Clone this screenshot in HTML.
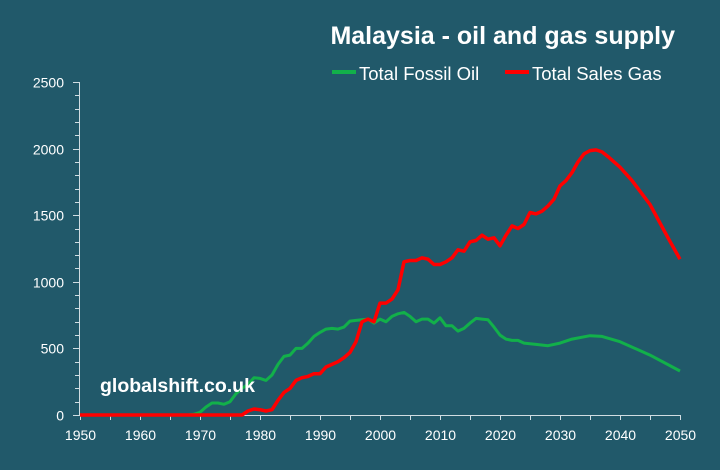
<!DOCTYPE html>
<html><head><meta charset="utf-8"><style>
body{margin:0;background:#21596a;}
svg{display:block;font-family:"Liberation Sans","DejaVu Sans",sans-serif;}
</style></head><body>
<svg id="s" width="720" height="470" viewBox="0 0 720 470">
<rect width="720" height="470" fill="#21596a"/>
<text x="675" y="44" text-anchor="end" font-size="25" font-weight="bold" fill="#fff">Malaysia - oil and gas supply</text>
<line x1="332" y1="72" x2="356" y2="72" stroke="#12b04a" stroke-width="4"/>
<text x="359" y="80" font-size="18.5" fill="#fff">Total Fossil Oil</text>
<line x1="505" y1="72" x2="529" y2="72" stroke="#ff0000" stroke-width="4"/>
<text x="532" y="80" font-size="18.5" fill="#fff">Total Sales Gas</text>
<g id="ax" stroke="#d0dde2" stroke-width="1"></g>
<g id="lab" fill="#fff" font-size="14"></g>
<polyline id="oil" fill="none" stroke="#12b04a" stroke-width="3" stroke-linejoin="round"/>
<polyline id="gas" fill="none" stroke="#ff0000" stroke-width="3.5" stroke-linejoin="round"/>
<text x="100" y="392" font-size="19.5" font-weight="bold" fill="#fff">globalshift.co.uk</text>
</svg>
<script>
var X=function(y){return 80+6*(y-1950)},Y=function(v){return 415-v*0.1332};
var ax=document.getElementById('ax'),lab=document.getElementById('lab'),ns='http://www.w3.org/2000/svg';
function L(a,b,c,d){var l=document.createElementNS(ns,'line');l.setAttribute('x1',a);l.setAttribute('y1',b);l.setAttribute('x2',c);l.setAttribute('y2',d);ax.appendChild(l);}
function T(x,y,s,a){var t=document.createElementNS(ns,'text');t.setAttribute('x',x);t.setAttribute('y',y);t.setAttribute('text-anchor',a);t.textContent=s;lab.appendChild(t);}
L(79.5,82,79.5,415);L(79.5,415.5,680,415.5);
for(var v=0;v<=2500;v+=100){var y=Math.round(Y(v))+.5;L(v%500?75:73,y,79.5,y);if(v%500==0)T(64,y+5,v,'end');}
for(var yr=1950;yr<=2050;yr+=5){var x=Math.round(X(yr))+.5;L(x,415,x,420);if(yr%10==0)T(x,440,yr,'middle');}
var oil=[[1950,0],[1968,0],[1969,5],[1970,20],[1971,60],[1972,90],[1973,90],[1974,80],[1975,100],[1976,160],[1977,200],[1978,230],[1979,280],[1980,275],[1981,260],[1982,300],[1983,380],[1984,440],[1985,450],[1986,500],[1987,500],[1988,540],[1989,590],[1990,620],[1991,645],[1992,650],[1993,645],[1994,660],[1995,705],[1996,710],[1997,715],[1998,720],[1999,690],[2000,720],[2001,700],[2002,740],[2003,760],[2004,770],[2005,740],[2006,700],[2007,720],[2008,720],[2009,690],[2010,730],[2011,670],[2012,670],[2013,630],[2014,650],[2015,690],[2016,725],[2017,720],[2018,715],[2019,660],[2020,600],[2021,570],[2022,560],[2023,560],[2024,540],[2026,530],[2028,520],[2030,540],[2032,570],[2035,595],[2037,590],[2040,550],[2045,450],[2050,330]];
var gas=[[1950,0],[1977,0],[1978,30],[1979,45],[1980,40],[1981,30],[1982,40],[1983,110],[1984,170],[1985,200],[1986,260],[1987,280],[1988,290],[1989,310],[1990,310],[1991,360],[1992,380],[1993,400],[1994,430],[1995,470],[1996,550],[1997,700],[1998,720],[1999,700],[2000,840],[2001,840],[2002,870],[2003,940],[2004,1150],[2005,1160],[2006,1160],[2007,1180],[2008,1170],[2009,1130],[2010,1130],[2011,1150],[2012,1180],[2013,1240],[2014,1230],[2015,1300],[2016,1310],[2017,1350],[2018,1320],[2019,1330],[2020,1270],[2021,1350],[2022,1420],[2023,1400],[2024,1430],[2025,1520],[2026,1510],[2027,1530],[2028,1570],[2029,1620],[2030,1720],[2031,1760],[2032,1820],[2033,1900],[2034,1960],[2035,1985],[2036,1990],[2037,1975],[2038,1940],[2040,1860],[2042,1760],[2045,1580],[2048,1330],[2050,1170]];
function P(d){return d.map(function(p){return X(p[0]).toFixed(1)+','+Y(p[1]).toFixed(1)}).join(' ')}
document.getElementById('oil').setAttribute('points',P(oil));
document.getElementById('gas').setAttribute('points',P(gas));
</script>
</body></html>
